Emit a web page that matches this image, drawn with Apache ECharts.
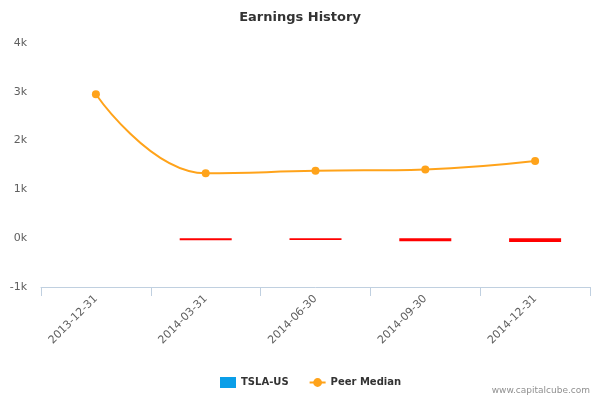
<!DOCTYPE html>
<html lang="en" style="height: 100%">
<head>
  <meta charset="utf-8">
</head>
<body style="height: 100%; margin: 0">
  <div id="container" style="width: 600px; height: 400px"></div>

  <script type="text/javascript" src="https://fastly.jsdelivr.net/npm/echarts@6/dist/echarts.min.js"></script>
  <script type="text/javascript">
    // values
    var quarters = ['2013-12-31', '2014-03-31', '2014-06-30', '2014-09-30', '2014-12-31'];
    var tslaValues = [null, -40, -35, -60, -80];
    var peerMedian = [2950, 1330, 1380, 1410, 1580];

    var dom = document.getElementById('container');
    var myChart = echarts.init(dom, null, { renderer: 'canvas' });

    // negative bars are drawn in red, like the original
    var tslaData = tslaValues.map(function (v) {
      if (v === null) return '-';
      return { value: v, itemStyle: { color: v < 0 ? '#ff0000' : '#0a9ee8' } };
    });

    var option = {
      animation: false,
      textStyle: { fontFamily: 'DejaVu Sans' },
      title: {
        text: 'Earnings History',
        left: 'center',
        top: 6,
        textStyle: { fontSize: 13, fontWeight: 'bold', color: '#333333' }
      },
      grid: { left: 41, right: 10, top: 43, bottom: 113 },
      legend: {
        left: 215,
        top: 372,
        itemGap: 20,
        itemWidth: 16,
        itemHeight: 11,
        textStyle: { fontSize: 10, fontWeight: 'bold', color: '#333333' },
        data: [
          { name: 'TSLA-US', icon: 'rect' },
          { name: 'Peer Median' }
        ]
      },
      graphic: [{
        type: 'text',
        right: 10,
        top: 386,
        style: { text: 'www.capitalcube.com', fill: '#909090', fontSize: 9, fontFamily: 'DejaVu Sans' }
      }],
      xAxis: {
        type: 'category',
        data: quarters,
        boundaryGap: true,
        axisLine: { onZero: false, lineStyle: { color: '#c0d0e0' } },
        axisTick: { show: true, alignWithLabel: false, length: 9, lineStyle: { color: '#c0d0e0' } },
        axisLabel: { rotate: 45, fontSize: 11, color: '#606060', margin: 10 }
      },
      yAxis: {
        type: 'value',
        min: -1000,
        max: 4000,
        interval: 1000,
        axisLine: { show: false },
        axisTick: { show: false },
        splitLine: { show: false },
        axisLabel: {
          fontSize: 11,
          color: '#606060',
          margin: 14,
          formatter: function (v) { return (v / 1000) + 'k'; }
        }
      },
      series: [
        {
          name: 'TSLA-US',
          type: 'bar',
          data: tslaData,
          barWidth: 52,
          itemStyle: { color: '#0a9ee8' }
        },
        {
          name: 'Peer Median',
          type: 'line',
          data: peerMedian,
          smooth: 0.45,
          symbol: 'circle',
          symbolSize: 8,
          lineStyle: { width: 2, color: '#ffa31a' },
          itemStyle: { color: '#ffa31a' }
        }
      ]
    };

    myChart.setOption(option);
    window.addEventListener('resize', myChart.resize);
  </script>
</body>
</html>
